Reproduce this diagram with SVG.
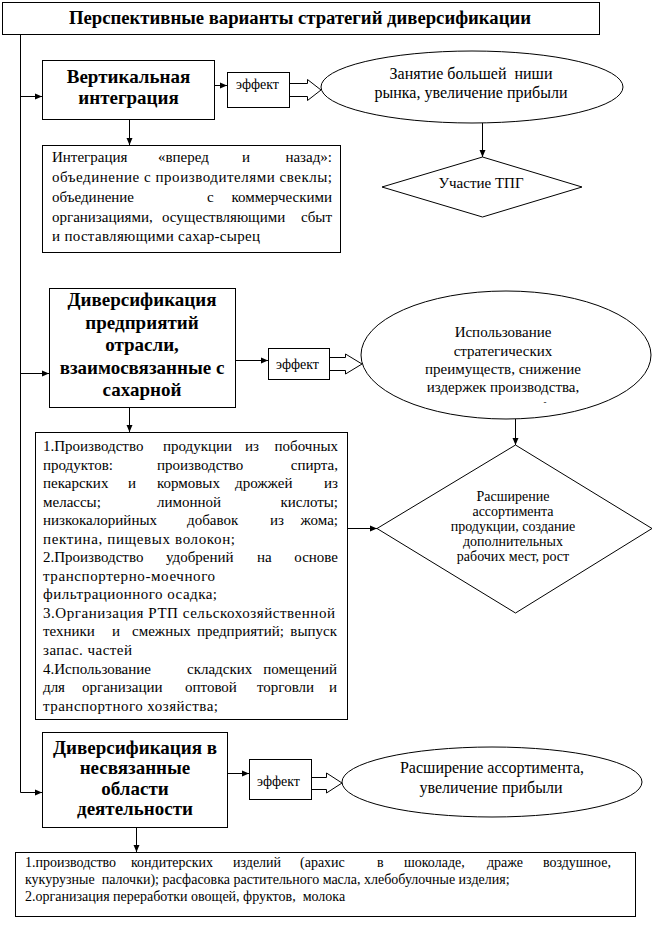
<svg xmlns="http://www.w3.org/2000/svg" width="656" height="925" viewBox="0 0 656 925">
<style>
.box{fill:#fff;stroke:#000;stroke-width:1}
.ln{fill:none;stroke:#000;stroke-width:1}
.ha{fill:#fff;stroke:#000;stroke-width:1}
text{font-family:"Liberation Serif","Times New Roman",serif;fill:#000}
.t{font-size:15px}
.s{font-size:14px}
.e{font-size:14px}
.d{font-size:14px;text-anchor:middle}
.c{font-size:16px;text-anchor:middle}
.b{font-size:19px;font-weight:bold;text-anchor:middle}
</style>
<defs>
<marker id="ah" markerWidth="8" markerHeight="8" refX="7" refY="4" orient="auto" markerUnits="userSpaceOnUse"><path d="M0,1 L7,4 L0,7 Z" fill="#000"/></marker>
</defs>
<rect width="656" height="925" fill="#fff"/>

<g id="title">
<rect class="box" x="2.5" y="2.5" width="597" height="32"/>
<text class="b" x="300" y="24" style="font-size:18.5px" textLength="462" lengthAdjust="spacingAndGlyphs">Перспективные варианты стратегий диверсификации</text>
</g>

<g id="connectors">
<path class="ln" d="M20.5,35 V792.5"/>
<path class="ln" d="M20.5,96.5 H42" marker-end="url(#ah)"/>
<path class="ln" d="M215,85.5 H227" marker-end="url(#ah)"/>
<path class="ln" d="M129.5,120 V145" marker-end="url(#ah)"/>
<path class="ln" d="M482.5,123 V157" marker-end="url(#ah)"/>
<path class="ln" d="M20.5,373.5 H49" marker-end="url(#ah)"/>
<path class="ln" d="M236,360.5 H268" marker-end="url(#ah)"/>
<path class="ln" d="M129.5,408 V432" marker-end="url(#ah)"/>
<path class="ln" d="M515.5,419 V445" marker-end="url(#ah)"/>
<path class="ln" d="M348,528.5 H377" marker-end="url(#ah)"/>
<path class="ln" d="M20.5,792.5 H42" marker-end="url(#ah)"/>
<path class="ln" d="M228,773.5 H249" marker-end="url(#ah)"/>
<path class="ln" d="M136.5,828 V852" marker-end="url(#ah)"/>
<path class="ha" d="M290,83.5 H307.5 V79.5 L321,90 L307.5,100.5 V96.5 H290"/>
<path class="ha" d="M330,357.5 H345.5 V354 L362,364 L345.5,374 V370.5 H330"/>
<path class="ha" d="M312,777.5 H326.5 V773 L342,783 L326.5,793 V789.5 H312"/>
</g>

<g id="n-vertical">
<rect class="box" x="42.5" y="60.5" width="172" height="59"/>
<text class="b" x="128.5" y="83">Вертикальная</text>
<text class="b" x="128.5" y="104">интеграция</text>
</g>

<g id="n-effect1">
<rect class="box" x="227.5" y="72.5" width="62" height="35"/>
<text class="e" x="236" y="89">эффект</text>
</g>

<g id="n-ellipse1">
<ellipse class="box" cx="472" cy="87" rx="151" ry="36"/>
<text class="c" x="471" y="79" xml:space="preserve">Занятие большей  ниши</text>
<text class="c" x="471" y="98">рынка, увеличение прибыли</text>
</g>

<g id="n-tpg">
<polygon class="box" points="482.5,157 582,187 482.5,217 382,187"/>
<text class="c" x="481" y="188" style="font-size:15px">Участие ТПГ</text>
</g>

<g id="n-integration">
<rect class="box" x="42.5" y="145.5" width="298" height="107"/>
<text class="t" y="162"><tspan x="52">Интеграция</tspan><tspan x="158">«вперед</tspan><tspan x="242">и</tspan><tspan x="332" text-anchor="end">назад»:</tspan></text>
<text class="t" x="52" y="182" textLength="280" lengthAdjust="spacing">объединение с производителями свеклы;</text>
<text class="t" y="202"><tspan x="52">объединение</tspan><tspan x="207">с</tspan><tspan x="332" text-anchor="end">коммерческими</tspan></text>
<text class="t" y="222"><tspan x="52">организациями,</tspan><tspan x="162">осуществляющими</tspan><tspan x="332" text-anchor="end">сбыт</tspan></text>
<text class="t" x="52" y="241" textLength="208" lengthAdjust="spacing">и поставляющими сахар-сырец</text>
</g>

<g id="n-related">
<rect class="box" x="49.5" y="288.5" width="186" height="119"/>
<text class="b" x="142" y="306">Диверсификация</text>
<text class="b" x="142" y="329">предприятий</text>
<text class="b" x="142" y="351">отрасли,</text>
<text class="b" x="142" y="374">взаимосвязанные с</text>
<text class="b" x="142" y="396">сахарной</text>
</g>

<g id="n-effect2">
<rect class="box" x="268.5" y="348.5" width="61" height="31"/>
<text class="e" x="276" y="369">эффект</text>
</g>

<g id="n-ellipse2">
<ellipse class="box" cx="506" cy="355" rx="145" ry="64"/>
<text class="c" x="503" y="337" style="font-size:15px">Использование</text>
<text class="c" x="503" y="356" style="font-size:15px">стратегических</text>
<text class="c" x="503" y="374" style="font-size:15px">преимуществ, снижение</text>
<text class="c" x="503" y="392" style="font-size:15px">издержек производства,</text>
<text class="c" x="545" y="405" style="font-size:9px">-</text>
</g>

<g id="n-assortment">
<polygon class="box" points="515.5,445 652,528.5 515.5,613 377,528.5"/>
<text class="d" x="513" y="501">Расширение</text>
<text class="d" x="513" y="516">ассортимента</text>
<text class="d" x="513" y="531">продукции, создание</text>
<text class="d" x="513" y="546">дополнительных</text>
<text class="d" x="513" y="561">рабочих мест, рост</text>
</g>

<g id="n-list1">
<rect class="box" x="35.5" y="432.5" width="312" height="287"/>
<text class="t" y="451"><tspan x="43">1.Производство</tspan><tspan x="163">продукции</tspan><tspan x="245">из</tspan><tspan x="338" text-anchor="end">побочных</tspan></text>
<text class="t" y="470"><tspan x="43">продуктов:</tspan><tspan x="157">производство</tspan><tspan x="338" text-anchor="end">спирта,</tspan></text>
<text class="t" y="488"><tspan x="43">пекарских</tspan><tspan x="128">и</tspan><tspan x="157">кормовых</tspan><tspan x="235">дрожжей</tspan><tspan x="338" text-anchor="end">из</tspan></text>
<text class="t" y="507"><tspan x="43">мелассы;</tspan><tspan x="157">лимонной</tspan><tspan x="338" text-anchor="end">кислоты;</tspan></text>
<text class="t" y="525"><tspan x="43">низкокалорийных</tspan><tspan x="187">добавок</tspan><tspan x="270">из</tspan><tspan x="338" text-anchor="end">жома;</tspan></text>
<text class="t" x="43" y="544" textLength="192" lengthAdjust="spacing">пектина, пищевых волокон;</text>
<text class="t" y="562"><tspan x="43">2.Производство</tspan><tspan x="166">удобрений</tspan><tspan x="257">на</tspan><tspan x="338" text-anchor="end">основе</tspan></text>
<text class="t" x="43" y="581" textLength="172" lengthAdjust="spacing">транспортерно-моечного</text>
<text class="t" x="43" y="599" textLength="174" lengthAdjust="spacing">фильтрационного осадка;</text>
<text class="t" x="43" y="618" textLength="292" lengthAdjust="spacing">3.Организация РТП сельскохозяйственной</text>
<text class="t" y="636"><tspan x="43">техники</tspan><tspan x="112">и</tspan><tspan x="132">смежных</tspan><tspan x="197">предприятий;</tspan><tspan x="337" text-anchor="end">выпуск</tspan></text>
<text class="t" x="43" y="655" textLength="89" lengthAdjust="spacing">запас. частей</text>
<text class="t" y="674"><tspan x="43">4.Использование</tspan><tspan x="187">складских</tspan><tspan x="337" text-anchor="end">помещений</tspan></text>
<text class="t" y="692"><tspan x="43">для</tspan><tspan x="82">организации</tspan><tspan x="185">оптовой</tspan><tspan x="257">торговли</tspan><tspan x="337" text-anchor="end">и</tspan></text>
<text class="t" x="43" y="711" textLength="175" lengthAdjust="spacing">транспортного хозяйства;</text>
</g>

<g id="n-unrelated">
<rect class="box" x="42.5" y="732.5" width="185" height="95"/>
<text class="b" x="135" y="754">Диверсификация в</text>
<text class="b" x="135" y="774">несвязанные</text>
<text class="b" x="135" y="795">области</text>
<text class="b" x="135" y="815">деятельности</text>
</g>

<g id="n-effect3">
<rect class="box" x="249.5" y="759.5" width="62" height="40"/>
<text class="e" x="257" y="786">эффект</text>
</g>

<g id="n-ellipse3">
<ellipse class="box" cx="492" cy="782" rx="150" ry="35"/>
<text class="c" x="492" y="773">Расширение ассортимента,</text>
<text class="c" x="491" y="793">увеличение прибыли</text>
</g>

<g id="n-list2">
<rect class="box" x="15.5" y="852.5" width="620" height="64"/>
<text class="s" y="867"><tspan x="25">1.производство</tspan><tspan x="131">кондитерских</tspan><tspan x="233">изделий</tspan><tspan x="300">(арахис</tspan><tspan x="377">в</tspan><tspan x="404">шоколаде,</tspan><tspan x="487">драже</tspan><tspan x="611" text-anchor="end">воздушное,</tspan></text>
<text class="s" x="25" y="884" xml:space="preserve">кукурузные  палочки); расфасовка растительного масла, хлебобулочные изделия;</text>
<text class="s" x="25" y="901" xml:space="preserve">2.организация переработки овощей, фруктов,  молока</text>
</g>
</svg>
